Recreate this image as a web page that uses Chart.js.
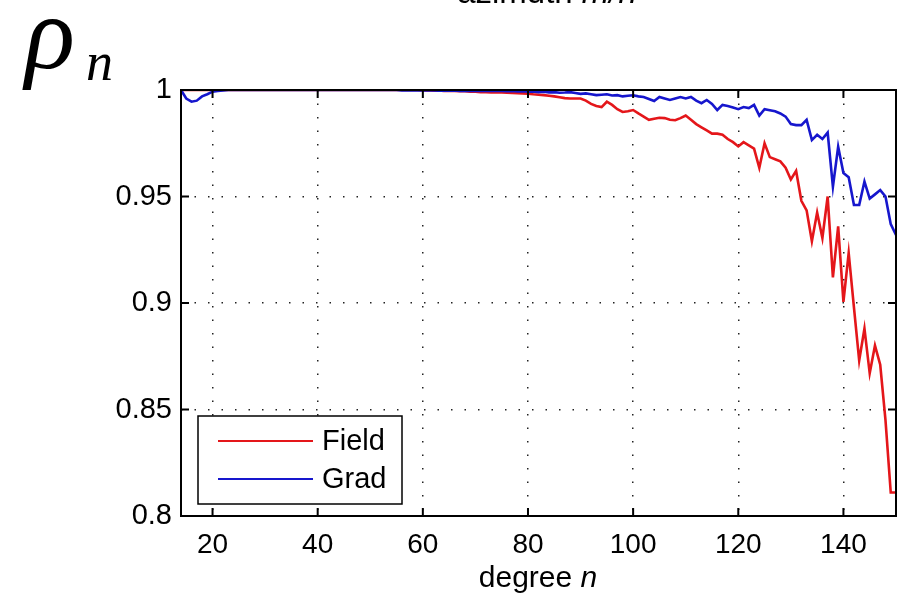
<!DOCTYPE html>
<html>
<head>
<meta charset="utf-8">
<script src="https://cdn.jsdelivr.net/npm/chart.js@4.4.1/dist/chart.umd.min.js"></script>
<style>
html,body{margin:0;padding:0;background:#fff;}
#wrap{width:899px;height:596px;}
</style>
</head>
<body>
<div id="wrap"><canvas id="c" width="899" height="596"></canvas></div>
<script>
// ---- data ----
const degrees = [14,15,16,17,18,19,20,21,22,23,24,25,26,27,28,29,30,31,32,33,34,35,36,37,38,39,40,
41,42,43,44,45,46,47,48,49,50,51,52,53,54,55,56,57,58,59,60,61,62,63,64,65,66,67,68,69,70,
71,72,73,74,75,76,77,78,79,80,81,82,83,84,85,86,87,88,89,90,91,92,93,94,95,96,97,98,99,100,
101,102,103,104,105,106,107,108,109,110,111,112,113,114,115,116,117,118,119,120,121,122,123,124,125,
126,127,128,129,130,131,132,133,134,135,136,137,138,139,140,141,142,143,144,145,146,147,148,149,150];

const fieldValues = [
1,1,1,1,1,1,1,
1,1,1,1,1,1,1,1,1,1,1,1,1,1,1,1,1,1,1,1,1,1,1,1,1,1,1,1,1,1,1,1,1,1,1,1,1,1,1,
0.9998,0.9999,0.9997,0.9998,0.9996,0.9997,0.9995,0.9994,0.9994,0.9992,0.9992,0.999,0.999,0.9989,0.9988,
0.9988,0.9987,0.9986,0.9985,0.9984,0.9983,0.998,0.9978,0.9976,0.9973,0.997,0.9966,0.9962,
0.996,0.996,0.996,0.995,0.9935,0.9925,0.992,0.9945,0.993,0.991,0.9897,0.990,
0.9906,0.989,0.9875,0.986,0.9865,0.987,0.9868,0.986,0.9858,0.9868,0.988,0.986,0.984,0.9825,0.981,0.9795,0.9795,0.979,0.977,0.9755,0.9735,0.9755,0.974,0.9725,
0.9635,0.975,0.9685,0.9675,0.9665,0.9635,0.958,0.962,0.948,0.9435,0.929,0.9425,0.9305,0.950,0.912,0.936,0.9005,0.9235,0.898,0.873,0.888,0.867,0.880,0.871,0.845,0.811,0.811];

const gradValues = [
1,0.996,0.9945,0.995,0.997,0.998,0.9992,0.9995,0.9998,
1,1,1,1,1,1,1,1,1,1,1,1,1,1,1,1,1,1,1,1,1,1,1,1,1,1,1,1,1,1,1,1,1,
0.9998,0.9999,0.9998,0.9999,0.9998,0.9999,0.9998,0.9997,0.9998,0.9997,0.9998,0.9996,0.9997,0.9996,0.9997,0.9995,0.9996,0.9995,0.9995,
0.9995,0.9994,0.9995,0.9993,0.9994,0.9992,0.9993,0.999,0.9992,0.9989,0.999,0.9987,0.9988,0.999,0.9986,0.9982,0.9984,0.998,0.9976,0.9978,0.998,0.9974,0.9976,0.997,0.9973,
0.9975,0.997,0.9967,0.9958,0.9948,0.9967,0.996,0.9953,0.996,0.9967,0.996,0.9967,0.995,0.9938,0.9953,0.9935,0.9906,0.993,0.9925,0.9918,0.991,0.992,0.9915,0.993,
0.988,0.991,0.9905,0.990,0.989,0.9875,0.984,0.9835,0.9835,0.986,0.9765,0.979,0.977,0.980,
0.9546,0.9734,0.961,0.959,0.946,0.946,0.957,0.949,0.951,0.953,0.950,0.937,0.932];

const xTickValues = [20,40,60,80,100,120,140];
const yTickValues = [0.8,0.85,0.9,0.95,1];
const yTickLabels = ['0.8','0.85','0.9','0.95','1'];
const seriesNames = ['Field','Grad'];
const seriesColors = ['rgb(228,22,26)','rgb(22,22,205)'];
const titleText = 'azimuth ';
const titleItalic = 'm/n';
const xTitle = 'degree ';
const xTitleItalic = 'n';
const yTitleMain = 'ρ';
const yTitleSub = 'n';

const SANS = '"Liberation Sans", Arial, sans-serif';
const SERIF = '"Liberation Serif", "Times New Roman", serif';

const toPoints = vals => degrees.map((d,i)=>({x:d,y:vals[i]}));

const decor = {
  id:'decor',
  afterDraw(chart){
    const ctx = chart.ctx;
    const a = chart.chartArea;
    const xs = chart.scales.x, ys = chart.scales.y;
    ctx.save();
    // frame
    ctx.strokeStyle = '#000';
    ctx.lineWidth = 2;
    ctx.strokeRect(a.left, a.top, a.right-a.left, a.bottom-a.top);
    // inward tick marks
    ctx.beginPath();
    xTickValues.forEach(v=>{
      const px = xs.getPixelForValue(v);
      ctx.moveTo(px,a.bottom); ctx.lineTo(px,a.bottom-8);
      ctx.moveTo(px,a.top); ctx.lineTo(px,a.top+8);
    });
    yTickValues.forEach(v=>{
      const py = ys.getPixelForValue(v);
      ctx.moveTo(a.left,py); ctx.lineTo(a.left+8,py);
      ctx.moveTo(a.right,py); ctx.lineTo(a.right-8,py);
    });
    ctx.stroke();

    // legend
    const bx = a.left+17, by = a.bottom-100, bw = 204, bh = 88;
    ctx.fillStyle = '#fff';
    ctx.fillRect(bx,by,bw,bh);
    ctx.lineWidth = 1.5;
    ctx.strokeStyle = '#000';
    ctx.strokeRect(bx,by,bw,bh);
    ctx.font = '29px ' + SANS;
    ctx.textBaseline = 'middle';
    ctx.textAlign = 'left';
    seriesNames.forEach((name,i)=>{
      const ly = by + 25 + i*38;
      ctx.strokeStyle = seriesColors[i];
      ctx.lineWidth = 2.2;
      ctx.beginPath(); ctx.moveTo(bx+20,ly); ctx.lineTo(bx+115,ly); ctx.stroke();
      ctx.fillStyle = '#000';
      ctx.fillText(name, bx+124, ly+1);
    });

    // x title: degree n
    ctx.textBaseline = 'alphabetic';
    ctx.font = '30px ' + SANS;
    const w1 = ctx.measureText(xTitle).width;
    ctx.font = 'italic 30px ' + SANS;
    const w2 = ctx.measureText(xTitleItalic).width;
    const sx = 538 - (w1+w2)/2;
    ctx.fillStyle = '#000';
    ctx.font = '30px ' + SANS;
    ctx.fillText(xTitle, sx, 587);
    ctx.font = 'italic 30px ' + SANS;
    ctx.fillText(xTitleItalic, sx+w1, 587);

    // top title (cut off by the top edge)
    ctx.font = '33px ' + SANS;
    const t1 = ctx.measureText(titleText).width;
    ctx.font = 'italic 33px ' + SANS;
    const t2 = ctx.measureText(titleItalic).width;
    const tx = 547 - (t1+t2)/2;
    ctx.font = '33px ' + SANS;
    ctx.fillText(titleText, tx, 3);
    ctx.font = 'italic 33px ' + SANS;
    ctx.fillText(titleItalic, tx+t1, 3);

    // rho_n
    ctx.font = 'italic 104px ' + SERIF;
    ctx.fillText(yTitleMain, 25, 68);
    ctx.font = 'italic 54px ' + SERIF;
    ctx.fillText(yTitleSub, 86, 80);
    ctx.restore();
  }
};

new Chart(document.getElementById('c'), {
  type:'line',
  data:{
    datasets:[
      {label:seriesNames[0], data:toPoints(fieldValues), borderColor:seriesColors[0], borderWidth:2.6, pointRadius:0, tension:0, order:1, fill:false},
      {label:seriesNames[1], data:toPoints(gradValues), borderColor:seriesColors[1], borderWidth:2.6, pointRadius:0, tension:0, order:0, fill:false}
    ]
  },
  options:{
    responsive:false,
    animation:false,
    devicePixelRatio:1,
    layout:{padding:{left:0,top:90,right:3,bottom:0}},
    plugins:{legend:{display:false},tooltip:{enabled:false},title:{display:false}},
    scales:{
      x:{
        type:'linear', min:14, max:150,
        afterBuildTicks(s){ s.ticks = xTickValues.map(v=>({value:v})); },
        afterFit(s){ s.height = 80; },
        grid:{display:true, color:'#222', lineWidth:1.5, drawTicks:false},
        border:{display:false, dash:[1.5,12]},
        ticks:{color:'#000', font:{family:SANS, size:28}, padding:12, maxRotation:0,
          callback:(v)=>String(v)}
      },
      y:{
        type:'linear', min:0.8, max:1,
        afterBuildTicks(s){ s.ticks = yTickValues.map(v=>({value:v})); },
        afterFit(s){ s.width = 181; },
        grid:{display:true, color:'#222', lineWidth:1.5, drawTicks:false},
        border:{display:false, dash:[1.5,12]},
        ticks:{color:'#000', font:{family:SANS, size:29}, padding:9,
          callback:(v)=>{ const i = yTickValues.indexOf(v); return i>=0 ? yTickLabels[i] : ''; }}
      }
    }
  },
  plugins:[decor]
});
</script>
</body>
</html>
